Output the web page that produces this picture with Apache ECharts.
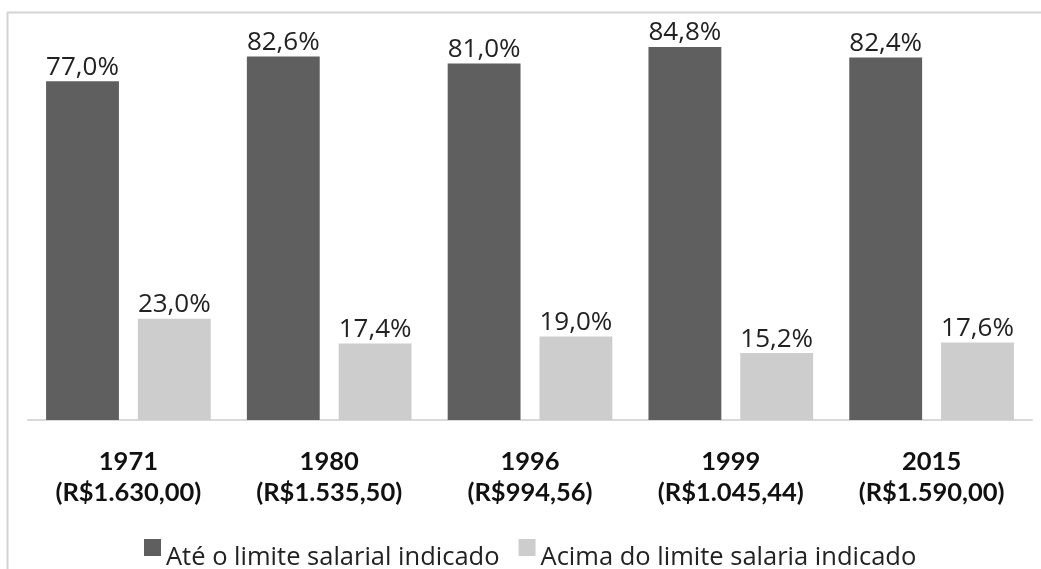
<!DOCTYPE html>
<html>
<head>
<meta charset="utf-8">
<script src="https://cdn.jsdelivr.net/npm/echarts@6/dist/echarts.min.js"></script>
<style>
  html, body { margin: 0; padding: 0; background: #fff; }
  #chart { width: 1041px; height: 569px; }
</style>
</head>
<body>
<div id="chart"></div>
<script>
// dados
var anos = ['1971', '1980', '1996', '1999', '2015'];
var limites = ['(R$1.630,00)', '(R$1.535,50)', '(R$994,56)', '(R$1.045,44)', '(R$1.590,00)'];
var ate = [77.0, 82.6, 81.0, 84.8, 82.4];
var acima = [23.0, 17.4, 19.0, 15.2, 17.6];
var nomes = ['Até o limite salarial indicado', 'Acima do limite salaria indicado'];

var categorias = anos.map(function (a, i) { return a + '\n' + limites[i]; });

function rotulo(p) {
    return p.value.toFixed(1).replace('.', ',') + '%';
}

// quadrado no topo da caixa do ícone, para o texto ficar mais baixo
var iconeLegenda = 'path://M0,0h17v17h-17z M0,37.9h0.1v0.1h-0.1z';

var myChart = echarts.init(document.getElementById('chart'));
myChart.setOption({
    animation: false,
    grid: {
        left: 28,
        right: 9,
        top: 24,
        height: 396,
        containLabel: false
    },
    graphic: [
        { type: 'line', shape: { x1: 7.5, y1: 12.5, x2: 7.5, y2: 569 }, style: { stroke: '#d4d4d4', lineWidth: 2 } },
        { type: 'line', shape: { x1: 7, y1: 12.5, x2: 1041, y2: 12.5 }, style: { stroke: '#d4d4d4', lineWidth: 2 } }
    ],
    legend: {
        data: nomes,
        top: 539,
        left: 144,
        padding: 0,
        itemWidth: 17,
        itemHeight: 38,
        itemGap: 19,
        icon: iconeLegenda,
        textStyle: {
            fontFamily: 'Open Sans',
            fontSize: 25.5,
            color: '#222'
        }
    },
    xAxis: {
        type: 'category',
        data: categorias,
        axisLine: { lineStyle: { color: '#d9d9d9', width: 2 } },
        axisTick: { show: false },
        axisLabel: {
            margin: 26,
            fontFamily: 'Lato',
            fontWeight: 'bold',
            fontSize: 25.5,
            lineHeight: 31,
            color: '#111'
        }
    },
    yAxis: {
        type: 'value',
        min: 0,
        max: 90,
        show: false
    },
    series: [
        {
            name: nomes[0],
            type: 'bar',
            data: ate,
            barGap: '26%',
            barCategoryGap: '18%',
            itemStyle: { color: '#5f5f5f' },
            label: {
                show: true,
                position: 'top',
                distance: 1,
                formatter: rotulo,
                fontFamily: 'Open Sans',
                fontSize: 26,
                color: '#222'
            }
        },
        {
            name: nomes[1],
            type: 'bar',
            data: acima,
            itemStyle: { color: '#cdcdcd' },
            label: {
                show: true,
                position: 'top',
                distance: 1,
                formatter: rotulo,
                fontFamily: 'Open Sans',
                fontSize: 26,
                color: '#222'
            }
        }
    ]
});
</script>
</body>
</html>
